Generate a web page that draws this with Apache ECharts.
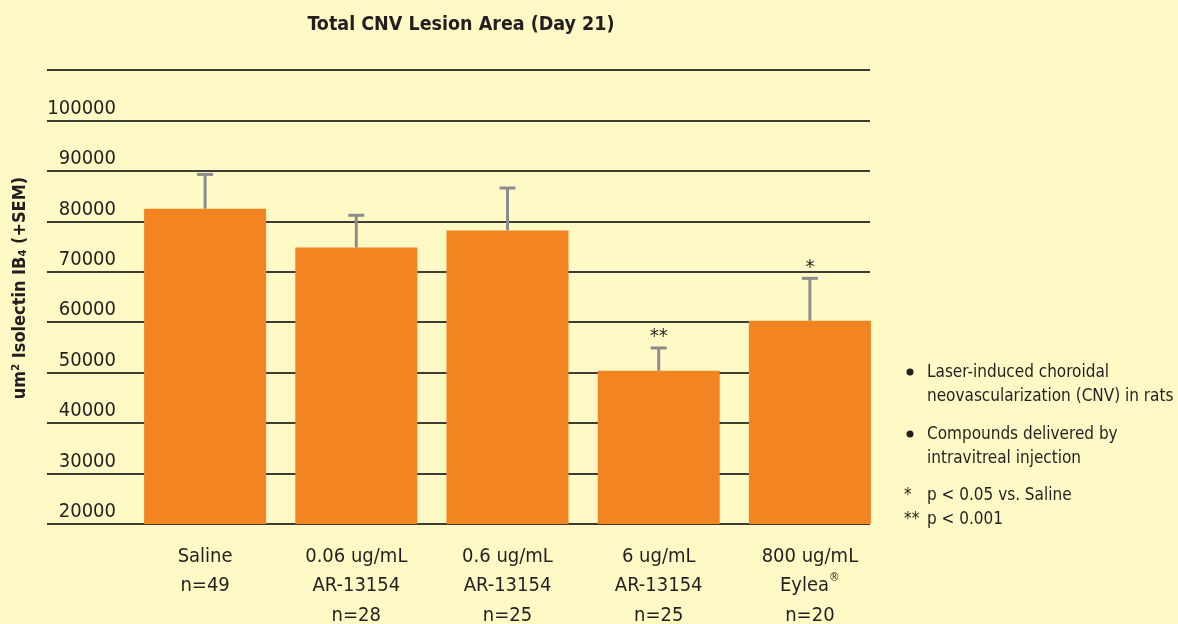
<!DOCTYPE html>
<html>
<head>
<meta charset="utf-8">
<script src="https://cdn.jsdelivr.net/npm/echarts@6/dist/echarts.min.js"></script>
<style>
  html, body { margin: 0; padding: 0; background: #fff9c6; }
  #main { width: 1178px; height: 624px; }
</style>
</head>
<body>
<div id="main"></div>
<script>
var categories = [
  'Saline\nn=49',
  '0.06 ug/mL\nAR-13154\nn=28',
  '0.6 ug/mL\nAR-13154\nn=25',
  '6 ug/mL\nAR-13154\nn=25',
  '800 ug/mL\nEylea{sup|®}\nn=20'
];
var lesionArea = [82500, 74800, 78200, 50400, 60300];
var sem = [6800, 6400, 8400, 4500, 8400];
var significance = ['', '', '', '**', '*'];
var yTicks = [20000, 30000, 40000, 50000, 60000, 70000, 80000, 90000, 100000, 110000];

var FONT = '"Liberation Sans Narrow", "DejaVu Sans Condensed", Arial, sans-serif';
var INK = '#231f20';

var myChart = echarts.init(document.getElementById('main'));

var errData = lesionArea.map(function (v, i) {
  return [i, v, v + sem[i], significance[i]];
});

var option = {
  backgroundColor: '#fff9c6',
  animation: false,
  title: {
    text: 'Total CNV Lesion Area (Day 21)',
    left: 456,
    textAlign: 'center',
    top: 10,
    textStyle: { fontFamily: FONT, fontWeight: 'bold', fontSize: 19.5, color: INK }
  },
  grid: [
    { left: 47, right: 308, top: 70, bottom: 100, outerBoundsMode: 'none', containLabel: false },
    { left: 129.5, right: 292.5, top: 70, bottom: 100, outerBoundsMode: 'none', containLabel: false }
  ],
  xAxis: [
    { type: 'value', gridIndex: 0, show: false, min: 0, max: 1 },
    {
      type: 'category', gridIndex: 1, data: categories,
      axisLine: { show: false }, axisTick: { show: false },
      axisLabel: {
        interval: 0, margin: 18, lineHeight: 29.5,
        fontFamily: FONT, fontSize: 20, color: INK,
        rich: { sup: { fontFamily: FONT, fontSize: 12, color: INK, verticalAlign: 'top', lineHeight: 20 } }
      }
    }
  ],
  yAxis: [
    {
      type: 'value', gridIndex: 0, min: yTicks[0], max: yTicks[yTicks.length - 1], interval: 10000,
      axisLine: { show: false }, axisTick: { show: false },
      splitLine: { lineStyle: { color: '#3d3d36', width: 2 } },
      axisLabel: {
        inside: true, align: 'right', verticalAlign: 'bottom', margin: 69,
        padding: [0, 0, 2, 0],
        fontFamily: FONT, fontSize: 20, color: INK,
        formatter: function (v) { return v >= 110000 ? '' : String(v); }
      }
    },
    {
      type: 'value', gridIndex: 1, min: yTicks[0], max: yTicks[yTicks.length - 1], interval: 10000,
      show: false, splitLine: { show: false }
    }
  ],
  series: [
    {
      type: 'bar', xAxisIndex: 1, yAxisIndex: 1, data: lesionArea,
      barWidth: 122, itemStyle: { color: '#f28522' }, z: 3
    },
    {
      type: 'custom', xAxisIndex: 1, yAxisIndex: 1, data: errData, z: 4,
      renderItem: function (params, api) {
        var base = api.coord([api.value(0), api.value(1)]);
        var top = api.coord([api.value(0), api.value(2)]);
        var st = { stroke: '#8c8c8c', lineWidth: 3 };
        var children = [
          { type: 'line', shape: { x1: base[0], y1: base[1], x2: top[0], y2: top[1] }, style: st },
          { type: 'line', shape: { x1: top[0] - 8, y1: top[1], x2: top[0] + 8, y2: top[1] }, style: st }
        ];
        var star = significance[params.dataIndex];
        if (star) {
          children.push({
            type: 'text',
            style: {
              text: star, x: top[0], y: top[1] - 1, align: 'center', verticalAlign: 'bottom',
              fontFamily: FONT, fontSize: 20, fill: INK
            }
          });
        }
        return { type: 'group', children: children };
      }
    }
  ],
  graphic: [
    {
      type: 'text', x: 20, y: 288, rotation: Math.PI / 2,
      style: {
        text: '{a|um}{sup|2}{a| Isolectin IB}{sub|4}{a| (+SEM)}',
        align: 'center', verticalAlign: 'middle',
        rich: {
          a: { fontFamily: FONT, fontWeight: 'bold', fontSize: 18, fill: INK },
          sup: { fontFamily: FONT, fontWeight: 'bold', fontSize: 11, fill: INK, verticalAlign: 'top', lineHeight: 18 },
          sub: { fontFamily: FONT, fontWeight: 'bold', fontSize: 11, fill: INK, verticalAlign: 'bottom', lineHeight: 12, padding: [8, 0, 0, 0] }
        }
      }
    },
    { type: 'circle', shape: { cx: 910, cy: 372, r: 3.5 }, style: { fill: INK } },
    { type: 'text', left: 927, top: 361, style: { text: 'Laser-induced choroidal\nneovascularization (CNV) in rats', fontFamily: FONT, fontSize: 17, lineHeight: 24, fill: INK } },
    { type: 'circle', shape: { cx: 910, cy: 434, r: 3.5 }, style: { fill: INK } },
    { type: 'text', left: 927, top: 423, style: { text: 'Compounds delivered by\nintravitreal injection', fontFamily: FONT, fontSize: 17, lineHeight: 24, fill: INK } },
    { type: 'text', left: 904, top: 484, style: { text: '*\n**', fontFamily: FONT, fontSize: 17, lineHeight: 24, fill: INK } },
    { type: 'text', left: 927, top: 484, style: { text: 'p < 0.05 vs. Saline\np < 0.001', fontFamily: FONT, fontSize: 17, lineHeight: 24, fill: INK } }
  ]
};

myChart.setOption(option);
</script>
</body>
</html>
